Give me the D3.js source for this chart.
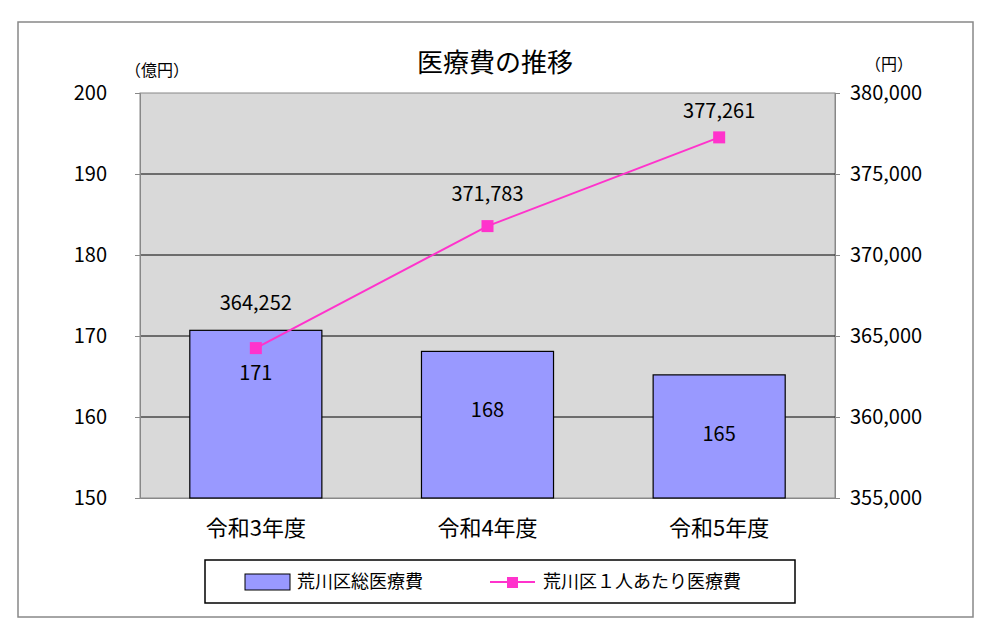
<!DOCTYPE html>
<html><head><meta charset="utf-8">
<script src="https://cdn.jsdelivr.net/npm/d3@7"></script>
<style>body{margin:0;background:#fff}text{font-family:"Noto Sans CJK JP",sans-serif}</style>
</head><body><svg id="c" width="991" height="637"></svg>
<script>
const categories=["令和3年度","令和4年度","令和5年度"];
const totalCost=[170.7,168.1,165.2];
const totalLabels=["171","168","165"];
const perPerson=[364252,371783,377261];
const leftTicks=[150,160,170,180,190,200];
const rightTicks=[355000,360000,365000,370000,375000,380000];

const svg=d3.select("#c");
const L=140,R=835,T=93,B=498;
svg.append("rect").attr("x",18).attr("y",22).attr("width",955).attr("height",595).attr("fill","#fff").attr("stroke","#888").attr("stroke-width",1.5);
svg.append("rect").attr("x",L).attr("y",T).attr("width",R-L).attr("height",B-T).attr("fill","#d9d9d9").attr("stroke","#888");
const x=d3.scaleBand().domain(categories).range([L,R]).paddingInner(0.43).paddingOuter(0.215);
const yL=d3.scaleLinear().domain([150,200]).range([B,T]);
const yR=d3.scaleLinear().domain([355000,380000]).range([B,T]);
svg.append("g").selectAll("line").data(leftTicks.slice(1,-1)).join("line")
 .attr("x1",L).attr("x2",R).attr("y1",d=>yL(d)).attr("y2",d=>yL(d)).attr("stroke","#000").attr("stroke-width",1);
const fmt=d3.format(",");
const gl=svg.append("g").attr("transform",`translate(${L},0)`).call(d3.axisLeft(yL).tickValues(leftTicks).tickSize(5).tickPadding(28));
const gr=svg.append("g").attr("transform",`translate(${R},0)`).call(d3.axisRight(yR).tickValues(rightTicks).tickFormat(fmt).tickSize(5).tickPadding(10));
const gb=svg.append("g").attr("transform",`translate(0,${B})`).call(d3.axisBottom(x).tickSize(0).tickPadding(22));
[gl,gr,gb].forEach(g=>{g.selectAll("text").attr("font-size",20).attr("fill","#000");g.select(".domain").attr("stroke","#888");g.selectAll(".tick line").attr("stroke","#888");});
gb.selectAll("text").attr("font-size",22);
svg.append("g").selectAll("rect").data(totalCost).join("rect")
 .attr("x",(d,i)=>x(categories[i])).attr("width",x.bandwidth()).attr("y",d=>yL(d)).attr("height",d=>B-yL(d))
 .attr("fill","#9999ff").attr("stroke","#000").attr("stroke-width",1.2);
svg.append("g").selectAll("text").data(totalCost).join("text")
 .attr("x",(d,i)=>x(categories[i])+x.bandwidth()/2).attr("y",(d,i)=>yL(d)+(i==0?50:66))
 .attr("text-anchor","middle").attr("font-size",20).text((d,i)=>totalLabels[i]);
const cx=(d,i)=>x(categories[i])+x.bandwidth()/2;
svg.append("path").datum(perPerson).attr("fill","none").attr("stroke","#ff33cc").attr("stroke-width",2)
 .attr("d",d3.line().x(cx).y(d=>yR(d)));
svg.append("g").selectAll("rect").data(perPerson).join("rect")
 .attr("x",(d,i)=>cx(d,i)-6).attr("y",d=>yR(d)-6).attr("width",12).attr("height",12).attr("fill","#ff33cc");
svg.append("g").selectAll("text").data(perPerson).join("text")
 .attr("x",cx).attr("y",(d,i)=>yR(d)-[38,25,19][i]).attr("text-anchor","middle").attr("font-size",20).text(fmt);
svg.append("text").attr("x",495).attr("y",72).attr("text-anchor","middle").attr("font-size",26).text("医療費の推移");
svg.append("text").attr("x",125).attr("y",76).attr("font-size",16).text("（億円）");
svg.append("text").attr("x",865).attr("y",70).attr("font-size",16).text("（円）");
svg.append("rect").attr("x",205).attr("y",560).attr("width",590).attr("height",43).attr("fill","#fff").attr("stroke","#000").attr("stroke-width",1.5);
svg.append("rect").attr("x",245).attr("y",574).attr("width",45).attr("height",16).attr("fill","#9999ff").attr("stroke","#000");
svg.append("text").attr("x",297).attr("y",588).attr("font-size",18).text("荒川区総医療費");
svg.append("line").attr("x1",490).attr("x2",535).attr("y1",582).attr("y2",582).attr("stroke","#ff33cc").attr("stroke-width",2);
svg.append("rect").attr("x",507).attr("y",577).attr("width",11).attr("height",11).attr("fill","#ff33cc");
svg.append("text").attr("x",543).attr("y",588).attr("font-size",18).text("荒川区１人あたり医療費");
</script></body></html>
